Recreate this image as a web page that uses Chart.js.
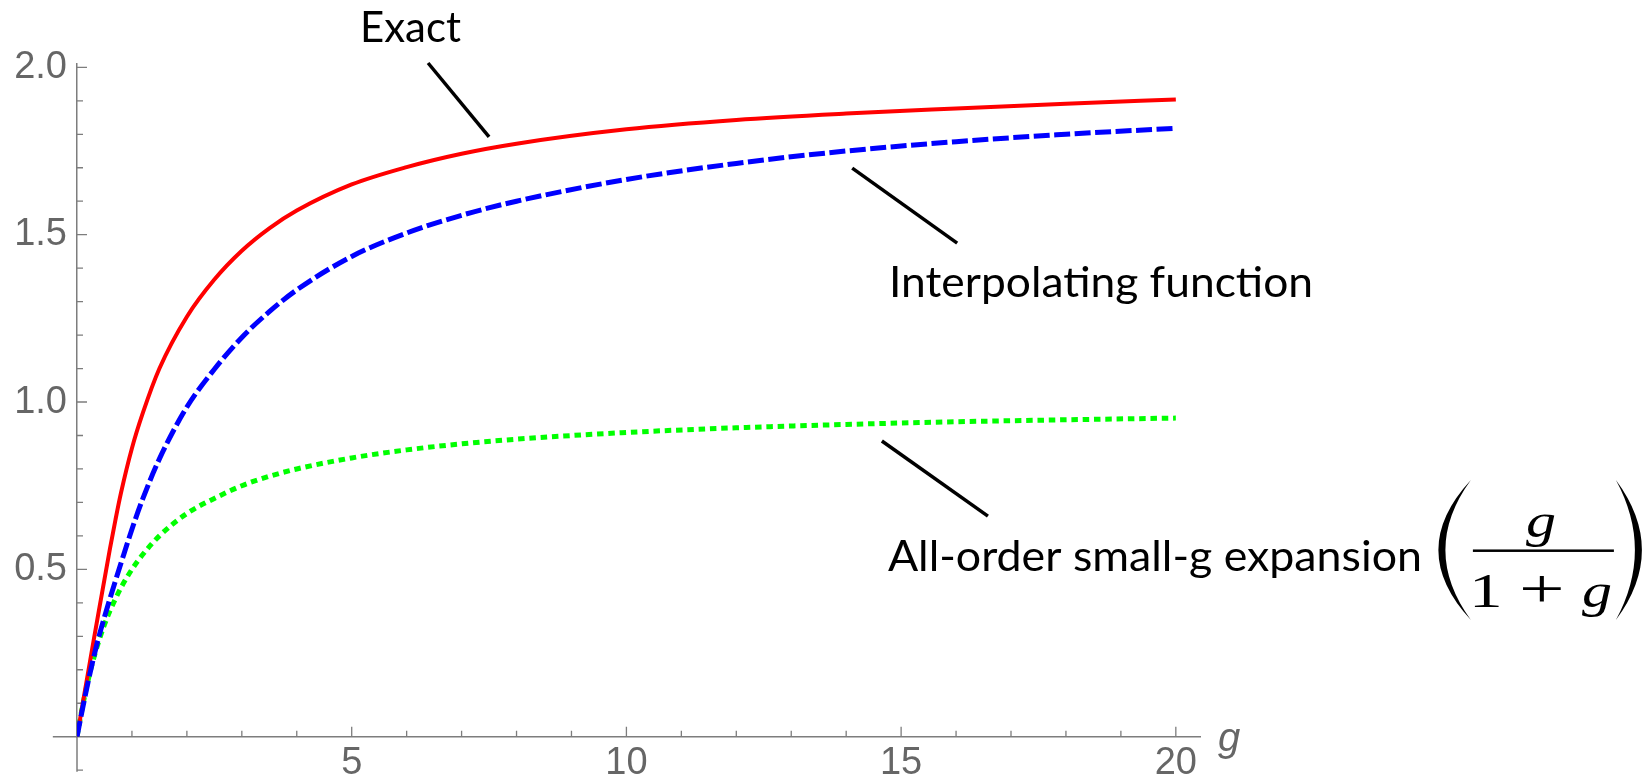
<!DOCTYPE html>
<html lang="en">
<head>
<meta charset="utf-8">
<title>Exact, interpolating function and small-g expansion</title>
<script src="https://cdn.jsdelivr.net/npm/chart.js@4.4.1/dist/chart.umd.min.js"></script>
<style>
  html, body { margin: 0; padding: 0; background: #fff; }
  #wrap { width: 1647px; height: 781px; }
</style>
</head>
<body>
<div id="wrap"><canvas id="grafico" width="1647" height="781"></canvas></div>
<script>
// --- values ---
const gValues      = [0, 0.1, 0.2, 0.3, 0.4, 0.5, 0.6, 0.7, 0.8, 1.0, 1.2, 1.5, 2, 2.5, 3, 3.5, 4, 5, 6, 7, 8, 10, 12, 14, 16, 18, 20];
const exactValues  = [0, 0.095, 0.19, 0.285, 0.378, 0.47, 0.562, 0.648, 0.728, 0.862, 0.968, 1.10, 1.255, 1.366, 1.452, 1.519, 1.572, 1.650, 1.702, 1.742, 1.772, 1.815, 1.843, 1.862, 1.877, 1.891, 1.904];
const interpValues = [0, 0.083, 0.162, 0.235, 0.300, 0.358, 0.413, 0.466, 0.518, 0.620, 0.712, 0.83, 0.985, 1.098, 1.193, 1.270, 1.335, 1.435, 1.505, 1.558, 1.600, 1.665, 1.713, 1.750, 1.778, 1.800, 1.818];
const smallGValues = [0, 0.09, 0.167, 0.232, 0.287, 0.335, 0.376, 0.412, 0.445, 0.50, 0.545, 0.60, 0.667, 0.712, 0.75, 0.778, 0.80, 0.833, 0.857, 0.875, 0.889, 0.909, 0.923, 0.933, 0.941, 0.947, 0.952];

// ticks
const xTickValues = [1, 2, 3, 4, 5, 6, 7, 8, 9, 10, 11, 12, 13, 14, 15, 16, 17, 18, 19, 20];
const xLabelTicks = [5, 10, 15, 20];
const xTickLabels = ['5', '10', '15', '20'];
const yTickValues = [0.1, 0.2, 0.3, 0.4, 0.5, 0.6, 0.7, 0.8, 0.9, 1.0, 1.1, 1.2, 1.3, 1.4, 1.5, 1.6, 1.7, 1.8, 1.9, 2.0];
const yLabelTicks = [0.5, 1.0, 1.5, 2.0];
const yTickLabels = ['0.5', '1.0', '1.5', '2.0'];

const GRAY_AXIS = '#7d7d7d';
const GRAY_TEXT = '#666666';

function pontos(valores) {
    return gValues.map((g, i) => ({ x: g, y: valores[i] }));
}

// axis extensions past the origin and the inward tick marks (Mathematica style)
const eixos = {
    id: 'eixos',
    beforeDatasetsDraw(chart) {
        const { ctx, scales: { x, y } } = chart;
        const x0 = x.getPixelForValue(0);
        const y0 = y.getPixelForValue(0);
        ctx.save();
        ctx.strokeStyle = GRAY_AXIS;
        ctx.lineWidth = 1.5;
        ctx.beginPath();
        ctx.moveTo(x.getPixelForValue(-0.44), y0);
        ctx.lineTo(x0, y0);
        ctx.moveTo(x0, y0);
        ctx.lineTo(x0, y.getPixelForValue(-0.105));
        ctx.stroke();

        ctx.lineWidth = 1.3;
        ctx.beginPath();
        xTickValues.forEach(v => {
            const len = xLabelTicks.includes(v) ? 10 : 6;
            const px = x.getPixelForValue(v);
            ctx.moveTo(px, y0);
            ctx.lineTo(px, y0 - len);
        });
        [-0.1].concat(yTickValues).forEach(v => {
            const len = yLabelTicks.includes(v) ? 10 : 6;
            const py = y.getPixelForValue(v);
            ctx.moveTo(x0, py);
            ctx.lineTo(x0 + len, py);
        });
        ctx.stroke();

        // axis label g
        ctx.fillStyle = GRAY_TEXT;
        ctx.font = 'italic 40px "Liberation Sans"';
        ctx.textBaseline = 'alphabetic';
        ctx.fillText('g', x.right + 18, y0 + 14);
        ctx.restore();
    }
};

// --- annotations (text + pointer), anchored in data units ---
const notas = [
    { text: 'Exact', at: [5.15, 2.076], width: 101, from: [6.39, 2.013], to: [7.50, 1.792] },
    { text: 'Interpolating function', at: [14.78, 1.315], width: 424, from: [14.11, 1.699], to: [16.02, 1.475] },
    { text: 'All-order small-g expansion', at: [14.76, 0.496], width: 534, from: [14.65, 0.8835], to: [16.58, 0.659] }
];
const formulaAt = [24.77, 0.558];

// glyph drawn centred at (cx, base), stretched sideways like the pasted formula
function glifo(ctx, txt, cx, base, font, sx) {
    ctx.save();
    ctx.font = font;
    ctx.translate(cx, base);
    ctx.scale(sx, 1);
    ctx.textAlign = 'center';
    ctx.fillText(txt, 0, 0);
    ctx.restore();
}

function desenharFormula(ctx, ox, oy) {
    ctx.fillStyle = '#000';
    // parentheses as thin crescents
    ctx.beginPath();
    ctx.moveTo(ox + 33, oy - 70);
    ctx.quadraticCurveTo(ox - 32, oy, ox + 33, oy + 70);
    ctx.quadraticCurveTo(ox - 18, oy, ox + 33, oy - 70);
    ctx.fill();
    ctx.beginPath();
    ctx.moveTo(ox + 178, oy - 70);
    ctx.quadraticCurveTo(ox + 230, oy, ox + 178, oy + 70);
    ctx.quadraticCurveTo(ox + 216, oy, ox + 178, oy - 70);
    ctx.fill();
    // fraction bar
    ctx.fillRect(ox + 35, oy - 0.5, 141, 2.5);
    ctx.textBaseline = 'alphabetic';
    const ital = 'italic 48px "Liberation Serif"';
    const reto = '48px "Liberation Serif"';
    glifo(ctx, 'g', ox + 103, oy - 13, ital, 1.25);
    glifo(ctx, '1', ox + 48, oy + 57, reto, 1.4);
    glifo(ctx, '+', ox + 104, oy + 57, '54px "Liberation Serif"', 1.5);
    glifo(ctx, 'g', ox + 159, oy + 57, ital, 1.25);
}

const anotacoes = {
    id: 'anotacoes',
    afterDraw(chart) {
        const { ctx, scales: { x, y } } = chart;
        ctx.save();
        ctx.strokeStyle = '#000';
        ctx.lineWidth = 3.5;
        ctx.fillStyle = '#000';
        ctx.font = '42px Lato';
        ctx.textBaseline = 'alphabetic';
        notas.forEach(n => {
            ctx.beginPath();
            ctx.moveTo(x.getPixelForValue(n.from[0]), y.getPixelForValue(n.from[1]));
            ctx.lineTo(x.getPixelForValue(n.to[0]), y.getPixelForValue(n.to[1]));
            ctx.stroke();

            const w = ctx.measureText(n.text).width;
            ctx.save();
            ctx.translate(x.getPixelForValue(n.at[0]), y.getPixelForValue(n.at[1]));
            ctx.scale(n.width / w, 1);
            ctx.fillText(n.text, 0, 0);
            ctx.restore();
        });
        desenharFormula(ctx, x.getPixelForValue(formulaAt[0]), y.getPixelForValue(formulaAt[1]));
        ctx.restore();
    }
};

function semPadding(scale) {
    scale.paddingTop = 0;
    scale.paddingBottom = 0;
    scale.paddingLeft = 0;
    scale.paddingRight = 0;
}

new Chart(document.getElementById('grafico'), {
    type: 'line',
    data: {
        datasets: [
            { label: 'Interpolating function', data: pontos(interpValues), borderColor: '#0000ff', borderWidth: 5, borderDash: [16, 4.5], order: 0 },
            { label: 'Exact', data: pontos(exactValues), borderColor: '#ff0000', borderWidth: 4, order: 1 },
            { label: 'All-order small-g expansion', data: pontos(smallGValues), borderColor: '#00ff00', borderWidth: 5, borderDash: [6.5, 4.8], order: 2 }
        ]
    },
    options: {
        responsive: false,
        animation: false,
        devicePixelRatio: 1,
        layout: { padding: { left: 0, top: 64, right: 447, bottom: 0 } },
        elements: {
            point: { radius: 0 },
            line: { cubicInterpolationMode: 'monotone', borderCapStyle: 'butt', fill: false }
        },
        plugins: { legend: { display: false }, tooltip: { enabled: false } },
        scales: {
            x: {
                type: 'linear',
                min: 0,
                max: 20.44,
                grid: { display: false, drawTicks: false },
                border: { display: true, color: GRAY_AXIS, width: 1.5 },
                afterBuildTicks: s => { s.ticks = xTickValues.map(v => ({ value: v })); },
                afterFit: s => { s.height = 44.3; semPadding(s); },
                ticks: {
                    autoSkip: false,
                    maxRotation: 0,
                    minRotation: 0,
                    padding: 4,
                    color: GRAY_TEXT,
                    font: { family: 'Liberation Sans', size: 38, lineHeight: 1.2 },
                    callback: v => {
                        const i = xLabelTicks.indexOf(v);
                        return i >= 0 ? xTickLabels[i] : '';
                    }
                }
            },
            y: {
                type: 'linear',
                min: 0,
                max: 2.01,
                grid: { display: false, drawTicks: false },
                border: { display: true, color: GRAY_AXIS, width: 1.5 },
                afterBuildTicks: s => { s.ticks = yTickValues.map(v => ({ value: v })); },
                afterFit: s => { s.width = 77; semPadding(s); },
                ticks: {
                    autoSkip: false,
                    padding: 10,
                    color: GRAY_TEXT,
                    font: { family: 'Liberation Sans', size: 38, lineHeight: 1.2 },
                    callback: v => {
                        const i = yLabelTicks.indexOf(v);
                        return i >= 0 ? yTickLabels[i] : '';
                    }
                }
            }
        }
    },
    plugins: [eixos, anotacoes]
});
</script>
</body>
</html>
